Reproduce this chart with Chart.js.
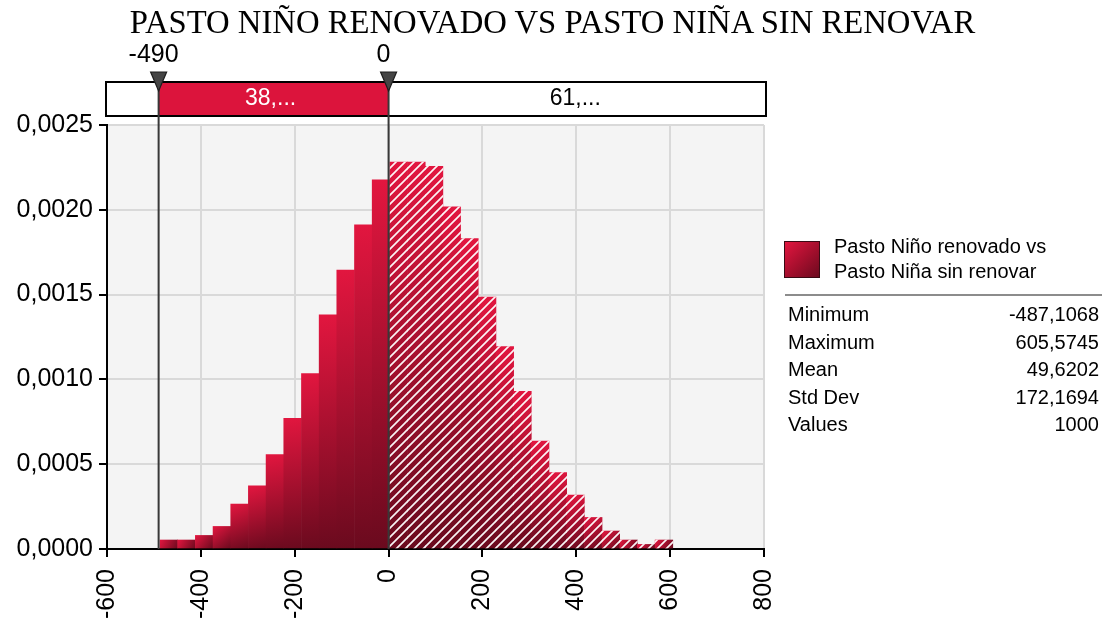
<!DOCTYPE html>
<html>
<head>
<meta charset="utf-8">
<script src="https://cdn.jsdelivr.net/npm/chart.js@4.4.1/dist/chart.umd.min.js"></script>
<style>
  body { margin: 0; background: #fff; }
  #wrap { position: relative; width: 1105px; height: 627px; overflow: hidden; }
  #chart { position: absolute; left: 0; top: 0; }
  #title { position: absolute; left: 0; top: 4px; width: 1105px; text-align: center;
    font: 32.7px/36px "Liberation Serif", "Times New Roman", serif; color: #000; }
  #legend .swatch { position: absolute; left: 784px; top: 241px; width: 34px; height: 35px;
    background: linear-gradient(135deg, #e2163f 0%, #a80f2e 50%, #6c0a1f 100%);
    border: 1.5px solid #3a0a14; }
  #legend .label { position: absolute; left: 834px; top: 234px;
    font: 20px/24.5px "Liberation Sans", Arial, sans-serif; color: #000; }
  #sep { position: absolute; left: 785px; top: 294px; width: 317px; height: 2px; background: #8c8c8c; }
  #stats { position: absolute; left: 788px; top: 301px; width: 311px;
    font: 20px/27.5px "Liberation Sans", Arial, sans-serif; color: #000; }
  #stats .row { display: flex; justify-content: space-between; }
</style>
</head>
<body>
<div id="wrap">
  <canvas id="chart" width="1105" height="627"></canvas>
  <div id="title"></div>
  <div id="legend"><div class="swatch"></div><div class="label"></div></div>
  <div id="sep"></div>
  <div id="stats"></div>
</div>
<script>
// titles
const chartTitle = 'PASTO NIÑO RENOVADO VS PASTO NIÑA SIN RENOVAR';
const seriesName = ['Pasto Niño renovado vs', 'Pasto Niña sin renovar'];

// histogram bins (centres) and density
const binCenters = [-468.3, -430.6, -392.9, -355.2, -317.5, -279.9, -242.2, -204.5, -166.8, -129.1,
  -91.5, -53.8, -16.1, 21.6, 59.3, 96.9, 134.6, 172.3, 210.0, 247.7,
  285.3, 323.0, 360.7, 398.4, 436.1, 473.7, 511.4, 549.1, 586.8];
const density = [0.000053, 0.000053, 0.000080, 0.000133, 0.000265, 0.000372, 0.000557, 0.000770, 0.001035, 0.001380,
  0.001645, 0.001911, 0.002176, 0.002282, 0.002282, 0.002256, 0.002017, 0.001831, 0.001486, 0.001194,
  0.000929, 0.000637, 0.000451, 0.000318, 0.000186, 0.000106, 0.000053, 0.000027, 0.000053];

// range markers on the top band
const markers = [-490, 0];
const markerLabels = ['-490', '0'];
const bandLabels = ['38,...', '61,...'];

// statistics panel
const statLabels = ['Minimum', 'Maximum', 'Mean', 'Std Dev', 'Values'];
const statValues = ['-487,1068', '605,5745', '49,6202', '172,1694', '1000'];

const xTicks = [-600, -400, -200, 0, 200, 400, 600, 800];
const yTicks = [0, 0.0005, 0.001, 0.0015, 0.002, 0.0025];

const SANS = '"Liberation Sans", Arial, sans-serif';

document.getElementById('title').textContent = chartTitle;
document.querySelector('#legend .label').innerHTML = seriesName.join('<br>');
document.getElementById('stats').innerHTML = statLabels
  .map((l, i) => '<div class="row"><span>' + l + '</span><span>' + statValues[i] + '</span></div>')
  .join('');

const RED = '#dc143c';
const binWidth = binCenters[1] - binCenters[0];

function barGradient(c) {
  const chart = c.chart;
  const xs = chart.scales.x, ys = chart.scales.y;
  if (!chart.chartArea || !xs || !ys) return RED;
  const i = c.dataIndex;
  const x0 = xs.getPixelForValue(binCenters[i] - binWidth / 2);
  const x1 = xs.getPixelForValue(binCenters[i] + binWidth / 2);
  const yTop = ys.getPixelForValue(density[i]);
  const yBot = ys.getPixelForValue(0);
  const g = chart.ctx.createLinearGradient(x0, yTop, x1, yBot);
  g.addColorStop(0, '#e2163f');
  g.addColorStop(1, '#6a0a1e');
  return g;
}

function hatchPattern() {
  const c = document.createElement('canvas');
  c.width = 9; c.height = 9;
  const g = c.getContext('2d');
  g.strokeStyle = 'rgba(255,255,255,0.95)';
  g.lineWidth = 1.7;
  g.beginPath();
  g.moveTo(0, 9); g.lineTo(9, 0);
  g.moveTo(-2, 2); g.lineTo(2, -2);
  g.moveTo(7, 11); g.lineTo(11, 7);
  g.stroke();
  return document.getElementById('chart').getContext('2d').createPattern(c, 'repeat');
}

const plotBg = {
  id: 'plotBg',
  beforeDraw(chart) {
    const { ctx, chartArea: a } = chart;
    ctx.save();
    ctx.fillStyle = '#f4f4f4';
    ctx.fillRect(a.left, a.top, a.right - a.left, a.bottom - a.top);
    ctx.restore();
  }
};

const band = {
  id: 'band',
  afterDraw(chart) {
    const { ctx, chartArea: a } = chart;
    const xs = chart.scales.x;
    const top = 82, bot = 116;
    const px = markers.map(v => xs.getPixelForValue(v));
    ctx.save();
    ctx.fillStyle = '#fff';
    ctx.fillRect(a.left - 1, top, a.right - a.left + 3, bot - top);
    ctx.fillStyle = RED;
    ctx.fillRect(px[0], top, px[1] - px[0], bot - top);
    ctx.strokeStyle = '#000';
    ctx.lineWidth = 2;
    ctx.strokeRect(a.left - 1, top, a.right - a.left + 3, bot - top);

    ctx.strokeStyle = '#383838';
    ctx.lineWidth = 2;
    px.forEach(p => {
      ctx.beginPath();
      ctx.moveTo(p, 88);
      ctx.lineTo(p, a.bottom);
      ctx.stroke();
    });
    px.forEach(p => {
      ctx.beginPath();
      ctx.moveTo(p - 8, 72);
      ctx.lineTo(p + 8, 72);
      ctx.lineTo(p, 91);
      ctx.closePath();
      ctx.fillStyle = '#454545';
      ctx.fill();
      ctx.lineWidth = 1.2;
      ctx.strokeStyle = '#1e1e1e';
      ctx.stroke();
    });

    ctx.textAlign = 'center';
    ctx.textBaseline = 'middle';
    ctx.font = '25px ' + SANS;
    ctx.fillStyle = '#000';
    px.forEach((p, i) => ctx.fillText(markerLabels[i], p - 5, 55));
    ctx.font = '23px ' + SANS;
    ctx.fillStyle = '#fff';
    ctx.fillText(bandLabels[0], (px[0] + px[1]) / 2 - 3, (top + bot) / 2);
    ctx.fillStyle = '#000';
    ctx.fillText(bandLabels[1], (px[1] + a.right) / 2 - 1, (top + bot) / 2);
    ctx.restore();
  }
};

const solidPoints = binCenters.map((x, i) => ({ x: x, y: density[i] }));
const hatchPoints = binCenters.map((x, i) => ({ x: x, y: x > markers[1] ? density[i] : null }));

new Chart(document.getElementById('chart'), {
  type: 'bar',
  data: {
    datasets: [
      {
        label: seriesName.join(' '),
        data: solidPoints,
        backgroundColor: barGradient,
        borderWidth: 0,
        grouped: false,
        barPercentage: 1,
        categoryPercentage: 1,
        order: 2
      },
      {
        label: 'hatch',
        data: hatchPoints,
        backgroundColor: hatchPattern(),
        borderWidth: 0,
        grouped: false,
        barPercentage: 1,
        categoryPercentage: 1,
        order: 1
      }
    ]
  },
  options: {
    responsive: false,
    animation: false,
    layout: { padding: { top: 125, right: 341, left: 0, bottom: 0 } },
    plugins: {
      legend: { display: false },
      tooltip: { enabled: false },
      title: { display: false }
    },
    scales: {
      x: {
        type: 'linear',
        min: -600,
        max: 800,
        offset: false,
        afterBuildTicks: s => { s.ticks = xTicks.map(v => ({ value: v })); },
        afterFit: s => { s.height = 78; },
        border: { color: '#000', width: 2 },
        grid: { offset: false, color: '#d9d9d9', lineWidth: 2, tickColor: '#000', tickLength: 8, tickWidth: 2 },
        ticks: {
          minRotation: 90,
          maxRotation: 90,
          padding: 12,
          color: '#000',
          font: { family: SANS, size: 25 },
          callback: v => String(v)
        }
      },
      y: {
        min: 0,
        max: 0.0025,
        afterBuildTicks: s => { s.ticks = yTicks.map(v => ({ value: v })); },
        afterFit: s => { s.width = 107; },
        border: { color: '#000', width: 2 },
        grid: { color: '#d9d9d9', lineWidth: 2, tickColor: '#000', tickLength: 8, tickWidth: 2 },
        ticks: {
          padding: 6,
          color: '#000',
          font: { family: SANS, size: 25 },
          callback: v => v.toFixed(4).replace('.', ',')
        }
      }
    }
  },
  plugins: [plotBg, band]
});
</script>
</body>
</html>
